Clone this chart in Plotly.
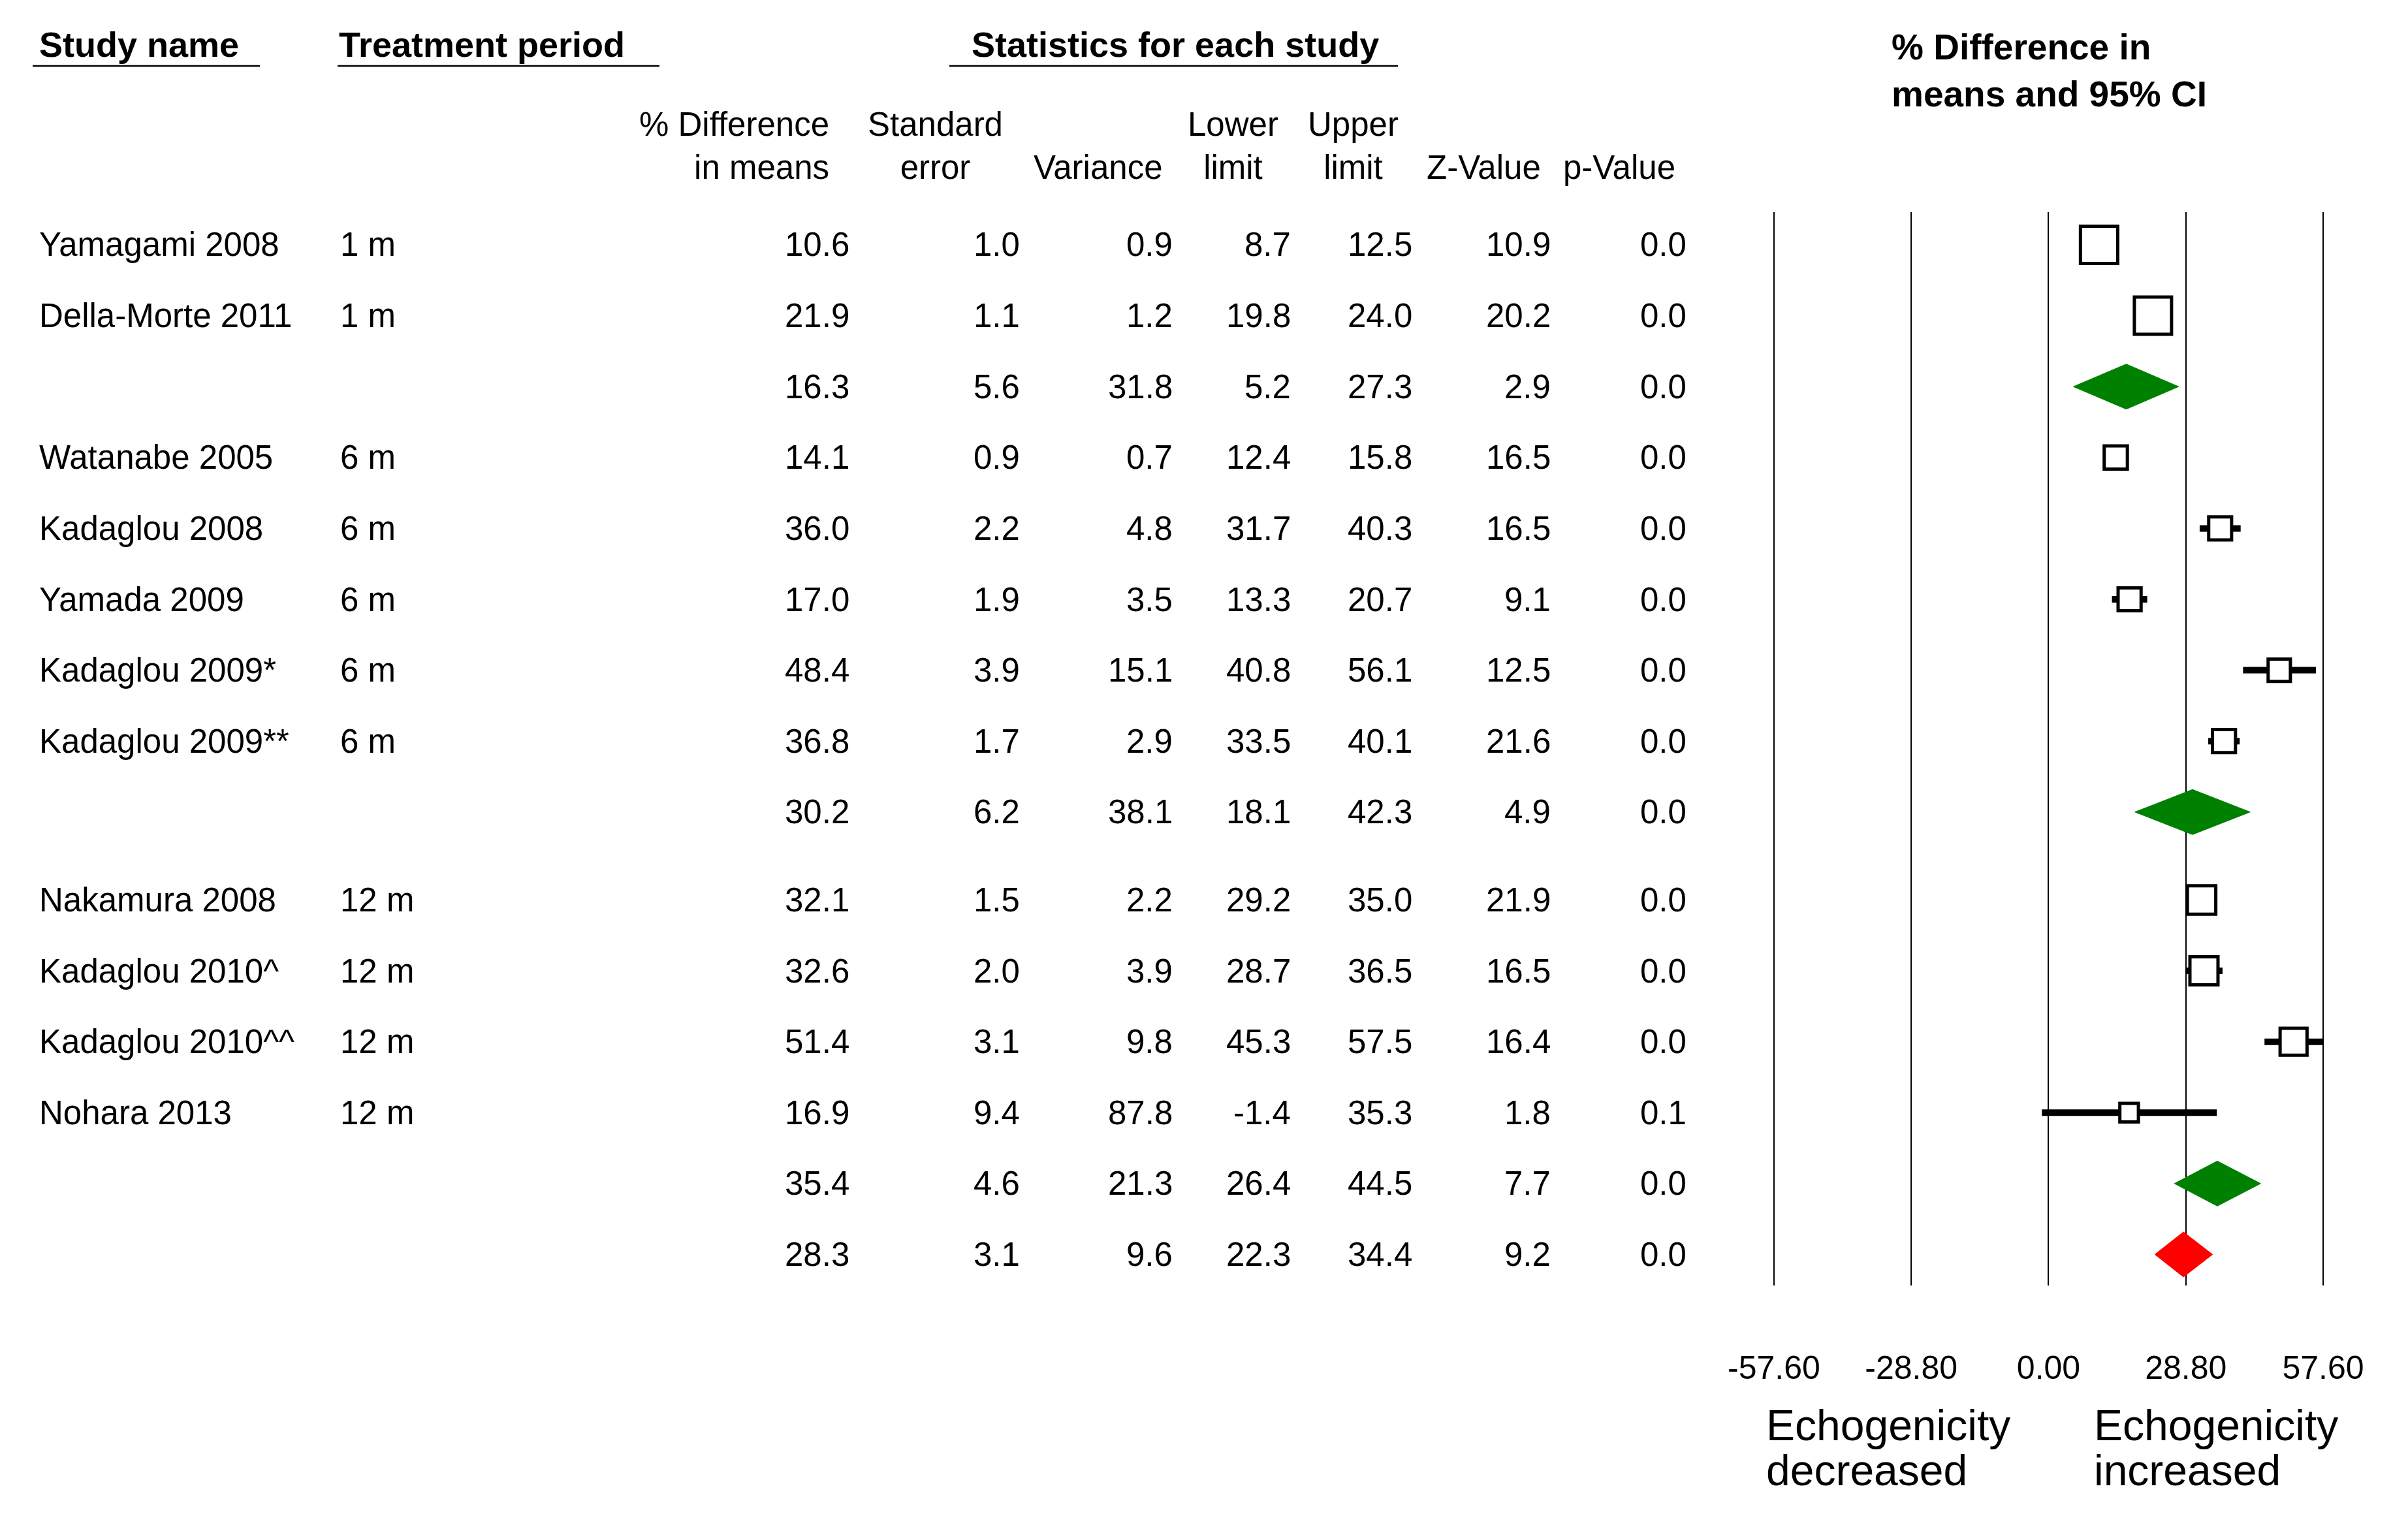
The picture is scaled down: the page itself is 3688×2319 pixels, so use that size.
import math
import plotly.graph_objects as go

# table rows (empty name = subgroup / overall summary line)
study_names = ["Yamagami 2008", "Della-Morte 2011", "", "Watanabe 2005", "Kadaglou 2008",
               "Yamada 2009", "Kadaglou 2009*", "Kadaglou 2009**", "", "Nakamura 2008",
               "Kadaglou 2010^", "Kadaglou 2010^^", "Nohara 2013", "", ""]
periods = ["1 m", "1 m", "", "6 m", "6 m", "6 m", "6 m", "6 m", "", "12 m", "12 m", "12 m", "12 m", "", ""]
row_kind = ["study", "study", "subgroup", "study", "study", "study", "study", "study", "subgroup",
            "study", "study", "study", "study", "subgroup", "overall"]
subgroup = [1, 1, 1, 2, 2, 2, 2, 2, 2, 3, 3, 3, 3, 3, 0]

diff_means = [10.6, 21.9, 16.3, 14.1, 36.0, 17.0, 48.4, 36.8, 30.2, 32.1, 32.6, 51.4, 16.9, 35.4, 28.3]
std_error = [1.0, 1.1, 5.6, 0.9, 2.2, 1.9, 3.9, 1.7, 6.2, 1.5, 2.0, 3.1, 9.4, 4.6, 3.1]
variance = [0.9, 1.2, 31.8, 0.7, 4.8, 3.5, 15.1, 2.9, 38.1, 2.2, 3.9, 9.8, 87.8, 21.3, 9.6]
lower_limit = [8.7, 19.8, 5.2, 12.4, 31.7, 13.3, 40.8, 33.5, 18.1, 29.2, 28.7, 45.3, -1.4, 26.4, 22.3]
upper_limit = [12.5, 24.0, 27.3, 15.8, 40.3, 20.7, 56.1, 40.1, 42.3, 35.0, 36.5, 57.5, 35.3, 44.5, 34.4]
z_value = [10.9, 20.2, 2.9, 16.5, 16.5, 9.1, 12.5, 21.6, 4.9, 21.9, 16.5, 16.4, 1.8, 7.7, 9.2]
p_value = [0.0, 0.0, 0.0, 0.0, 0.0, 0.0, 0.0, 0.0, 0.0, 0.0, 0.0, 0.0, 0.1, 0.0, 0.0]

tick_vals = [-57.6, -28.8, 0.0, 28.8, 57.6]

W, H = 3688, 2319
OFF = 8  # page margin around the plot div
FONT = "Liberation Sans, Arial, sans-serif"


def px(x):
    return (x - OFF) / W


def py(y):
    return 1 - (y - OFF) / H


# row positions on the y axis (a little extra space before the 12 m group)
row_pos = [i + (0.24 if i >= 9 else 0) for i in range(len(study_names))]
ROW0, ROWH = 375, 108.6

# random effects (DerSimonian-Laird) weights inside each subgroup -> square size
rel_weight = [0.0] * len(study_names)
for g in set(subgroup):
    idx = [i for i in range(len(study_names)) if subgroup[i] == g and row_kind[i] == "study"]
    if not idx:
        continue
    w = [1 / variance[i] for i in idx]
    ybar = sum(wi * diff_means[i] for wi, i in zip(w, idx)) / sum(w)
    q = sum(wi * (diff_means[i] - ybar) ** 2 for wi, i in zip(w, idx))
    c = sum(w) - sum(wi ** 2 for wi in w) / sum(w)
    tau2 = max(0.0, (q - (len(idx) - 1)) / c)
    ws = [1 / (variance[i] + tau2) for i in idx]
    for wi, i in zip(ws, idx):
        rel_weight[i] = 100 * wi / sum(ws)

fig = go.Figure()

# study squares with their confidence intervals
st = [i for i, k in enumerate(row_kind) if k == "study"]
fig.add_trace(go.Scatter(
    x=[diff_means[i] for i in st], y=[row_pos[i] for i in st], mode="markers",
    error_x=dict(type="data", symmetric=False,
                 array=[upper_limit[i] - diff_means[i] for i in st],
                 arrayminus=[diff_means[i] - lower_limit[i] for i in st],
                 color="black", thickness=10, width=0),
    marker=dict(symbol="square", color="white", opacity=1,
                size=[8.46 * math.sqrt(rel_weight[i]) - 2.8 for i in st],
                line=dict(color="black", width=5)),
    showlegend=False))

# summary diamonds
half_h = 34.5 / ROWH
for i, k in enumerate(row_kind):
    if k == "study":
        continue
    col = "#008000" if k == "subgroup" else "#ff0000"
    y0 = row_pos[i]
    fig.add_trace(go.Scatter(
        x=[lower_limit[i], diff_means[i], upper_limit[i], diff_means[i], lower_limit[i]],
        y=[y0, y0 - half_h, y0, y0 + half_h, y0],
        mode="lines", fill="toself", fillcolor=col, line=dict(color=col, width=1),
        showlegend=False))

ann = []


def txt(x, y, s, anchor="left", size=51, yref="y", align="left"):
    ann.append(dict(x=x, y=y, xref="paper", yref=yref, text=s, showarrow=False,
                    xanchor=anchor, yanchor="middle", align=align,
                    font=dict(family=FONT, size=size, color="black")))


# table body
value_cols = [(diff_means, 1303), (std_error, 1564), (variance, 1798), (lower_limit, 1979),
              (upper_limit, 2165), (z_value, 2377), (p_value, 2585)]
for i in range(len(study_names)):
    if study_names[i]:
        txt(px(58), row_pos[i], study_names[i])
        txt(px(519), row_pos[i], periods[i])
    for vals, xr in value_cols:
        txt(px(xr), row_pos[i], f"{vals[i]:.1f}", anchor="right")

# headers
txt(px(58), py(68), "<b>Study name</b>", size=54, yref="paper")
txt(px(517), py(68), "<b>Treatment period</b>", size=54, yref="paper")
txt(px(1800), py(68), "<b>Statistics for each study</b>", anchor="center", size=54, yref="paper")
txt(px(2895), py(108), "<b>% Difference in<br>means and 95% CI</b>", size=55, yref="paper")

txt(px(1272), py(223), "% Difference<br>in means", anchor="right", align="right", yref="paper")
txt(px(1432), py(223), "Standard<br>error", anchor="center", align="center", yref="paper")
txt(px(1783), py(256), "Variance", anchor="right", yref="paper")
txt(px(1888), py(223), "Lower<br>limit", anchor="center", align="center", yref="paper")
txt(px(2072), py(223), "Upper<br>limit", anchor="center", align="center", yref="paper")
txt(px(2362), py(256), "Z-Value", anchor="right", yref="paper")
txt(px(2568), py(256), "p-Value", anchor="right", yref="paper")

# direction labels under the axis
txt(px(2703), py(2183), "Echogenicity", size=66, yref="paper")
txt(px(2703), py(2252), "decreased", size=66, yref="paper")
txt(px(3205), py(2183), "Echogenicity", size=66, yref="paper")
txt(px(3205), py(2252), "increased", size=66, yref="paper")

# header underlines
shapes = []
for x0, x1 in [(50, 398), (517, 1010), (1454, 2141)]:
    shapes.append(dict(type="line", xref="paper", yref="paper", x0=px(x0), x1=px(x1),
                       y0=py(101), y1=py(101), line=dict(color="black", width=2.5)))

# x axis: -57.6 at 2717 px, 57.6 at 3558 px
ppu = (3558 - 2717) / 115.2
dom = [px(2717 - 2.4 * ppu), px(3558 + 2.4 * ppu)]

fig.update_layout(
    width=W, height=H, margin=dict(l=0, r=0, t=0, b=0, pad=0, autoexpand=False),
    paper_bgcolor="white", plot_bgcolor="white",
    annotations=ann, shapes=shapes,
    xaxis=dict(domain=dom, range=[-60, 60], tickvals=tick_vals,
               ticktext=[f"{v:.2f}" for v in tick_vals],
               showgrid=True, gridcolor="black", gridwidth=2, zeroline=False,
               showline=False, ticks="", ticklabelstandoff=92, automargin=False,
               tickfont=dict(family=FONT, size=50, color="black"), fixedrange=True),
    yaxis=dict(domain=[py(1969), py(325)],
               range=[(1969 - ROW0) / ROWH, (325 - ROW0) / ROWH],
               visible=False, showgrid=False, zeroline=False, fixedrange=True, automargin=False),
)

fig.write_html("out.html")
